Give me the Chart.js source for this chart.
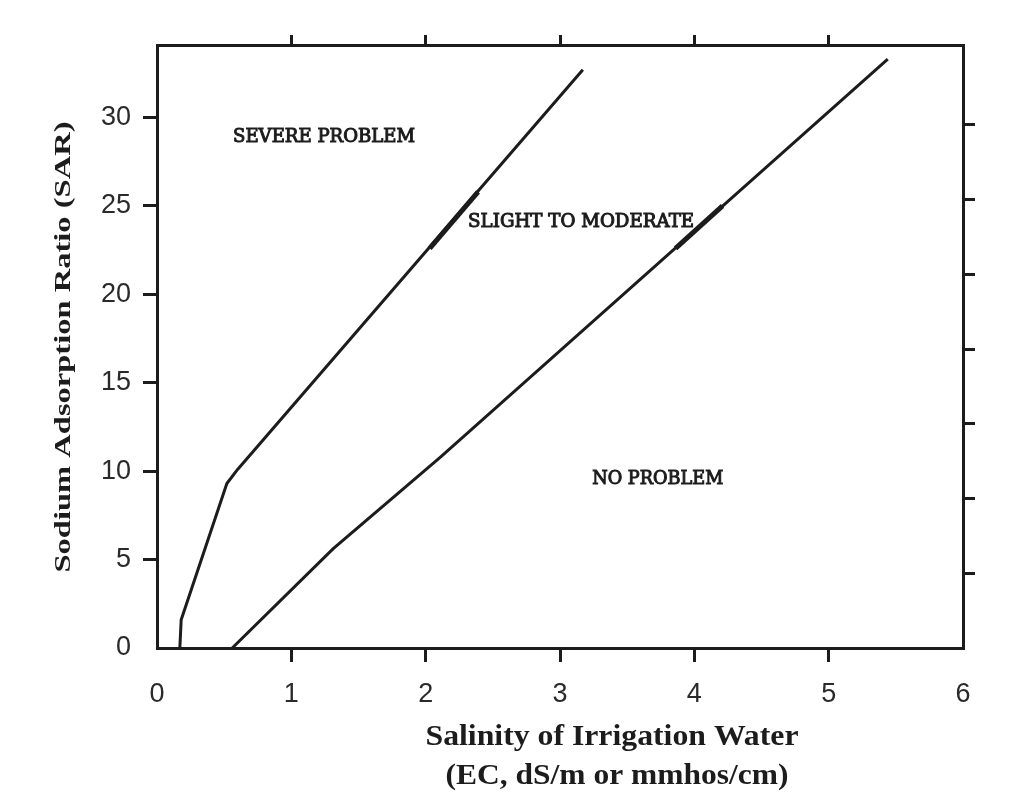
<!DOCTYPE html>
<html>
<head>
<meta charset="utf-8">
<script src="https://cdn.jsdelivr.net/npm/chart.js@4/dist/chart.umd.min.js"></script>
<style>
  html, body { margin: 0; padding: 0; background: #fff; }
  canvas { display: block; }
</style>
</head>
<body>
<canvas id="sarChart" width="1034" height="812"></canvas>
<script>
// --- données ---
// limite "severe problem" / "slight to moderate"
const ecSevere = [0.17, 0.18, 0.52, 0.60, 3.17];
const sarSevere = [0, 1.6, 9.3, 10.1, 32.7];
// limite "slight to moderate" / "no problem"
const ecNoProblem = [0.56, 1.31, 2.11, 5.44];
const sarNoProblem = [0, 5.6, 10.8, 33.3];
// traits plus épais (repasse au feutre sur l'original)
const ecSevereBold = [2.03, 2.39];
const sarSevereBold = [22.6, 25.8];
const ecNoProblemBold = [3.86, 4.21];
const sarNoProblemBold = [22.6, 25.0];

// étiquettes des zones
const zoneLabels = ['SEVERE PROBLEM', 'SLIGHT TO MODERATE', 'NO PROBLEM'];
const zoneEc = [0.566, 2.316, 3.24];
const zoneSar = [28.9, 24.1, 9.55];

// axes
const xTicks = [0, 1, 2, 3, 4, 5, 6];
const yTicks = [0, 5, 10, 15, 20, 25, 30];
const rightTicks = [1, 2, 3, 4, 5, 6, 7];
const xTitleLines = ['Salinity of Irrigation Water', '(EC, dS/m or mmhos/cm)'];
const yTitle = 'Sodium Adsorption Ratio (SAR)';

const INK = '#1c1c1c';
const toPoints = (xs, ys) => xs.map((v, i) => ({ x: v, y: ys[i] }));

const lineStyle = {
  borderColor: INK,
  borderWidth: 3,
  pointRadius: 0,
  fill: false,
  tension: 0
};

// largeur voulue de chaque étiquette de zone (px)
const zoneWidths = [182, 226, 131];

// Dessine un texte étiré (la figure scannée est déformée)
function drawStretched(ctx, text, x, y, targetWidth, rotate, stroke) {
  const w = ctx.measureText(text).width;
  ctx.save();
  ctx.translate(x, y);
  if (rotate) ctx.rotate(-Math.PI / 2);
  ctx.scale(targetWidth / w, 1);
  ctx.fillText(text, 0, 0);
  if (stroke) ctx.strokeText(text, 0, 0);
  ctx.restore();
}

const labelsPlugin = {
  id: 'labelsPlugin',
  afterDraw(chart) {
    const { ctx, scales } = chart;
    ctx.save();
    ctx.fillStyle = INK;
    ctx.strokeStyle = INK;

    // zones
    ctx.font = '18px "DejaVu Serif", "Liberation Serif", serif';
    ctx.lineWidth = 1;
    ctx.textAlign = 'left';
    ctx.textBaseline = 'middle';
    zoneLabels.forEach((txt, i) => {
      const px = scales.x.getPixelForValue(zoneEc[i]);
      const py = scales.y.getPixelForValue(zoneSar[i]);
      drawStretched(ctx, txt, px, py, zoneWidths[i], false, true);
    });

    // titre de l'axe x (deux lignes)
    ctx.font = 'bold 30px "Liberation Serif", "Times New Roman", serif';
    ctx.textAlign = 'center';
    ctx.textBaseline = 'alphabetic';
    drawStretched(ctx, xTitleLines[0], 612, 745, 373, false, false);
    drawStretched(ctx, xTitleLines[1], 617, 784, 343, false, false);

    // titre de l'axe y
    ctx.font = 'bold 24px "Liberation Serif", "Times New Roman", serif';
    drawStretched(ctx, yTitle, 70, 347, 451, true, false);
    ctx.restore();
  }
};

// ticks visibles seulement pour certaines valeurs
const tickColor = (values) => (c) => values.includes(c.tick && c.tick.value) ? INK : 'rgba(0,0,0,0)';

const tickFont = { family: '"Liberation Sans", Arial, sans-serif', size: 27 };

new Chart(document.getElementById('sarChart'), {
  type: 'line',
  data: {
    datasets: [
      { ...lineStyle, data: toPoints(ecSevere, sarSevere) },
      { ...lineStyle, data: toPoints(ecNoProblem, sarNoProblem) },
      { ...lineStyle, borderWidth: 5, data: toPoints(ecSevereBold, sarSevereBold) },
      { ...lineStyle, borderWidth: 5, data: toPoints(ecNoProblemBold, sarNoProblemBold) }
    ]
  },
  options: {
    responsive: false,
    animation: false,
    devicePixelRatio: 1,
    layout: { padding: 0 },
    plugins: { legend: { display: false }, tooltip: { enabled: false } },
    scales: {
      x: {
        type: 'linear', position: 'bottom', min: 0, max: 6,
        afterBuildTicks: s => { s.ticks = xTicks.map(v => ({ value: v })); },
        afterFit: s => { s.height = 164; },
        border: { display: true, color: INK, width: 3 },
        grid: { drawOnChartArea: false, tickLength: 14, lineWidth: 3, color: tickColor([1, 2, 3, 4, 5]) },
        ticks: { color: '#2a2a2a', font: tickFont, padding: 16, maxRotation: 0 }
      },
      x2: {
        type: 'linear', position: 'top', min: 0, max: 6,
        afterBuildTicks: s => { s.ticks = xTicks.map(v => ({ value: v })); },
        afterFit: s => { s.height = 45; },
        border: { display: true, color: INK, width: 3 },
        grid: { drawOnChartArea: false, tickLength: 10, lineWidth: 3, color: tickColor([1, 2, 3, 4, 5]) },
        ticks: { display: false }
      },
      y: {
        type: 'linear', position: 'left', min: 0, max: 34.1,
        afterBuildTicks: s => { s.ticks = yTicks.map(v => ({ value: v })); },
        afterFit: s => { s.width = 157; },
        border: { display: true, color: INK, width: 3 },
        grid: { drawOnChartArea: false, tickLength: 14, lineWidth: 3, color: tickColor([5, 10, 15, 20, 25, 30]) },
        ticks: { color: '#2a2a2a', font: tickFont, padding: 12 }
      },
      y2: {
        type: 'linear', position: 'right', min: 0, max: 8.07,
        afterBuildTicks: s => { s.ticks = rightTicks.map(v => ({ value: v })); },
        afterFit: s => { s.width = 71; },
        border: { display: true, color: INK, width: 3 },
        grid: { drawOnChartArea: false, tickLength: 12, lineWidth: 3, color: INK },
        ticks: { display: false }
      }
    }
  },
  plugins: [labelsPlugin]
});
</script>
</body>
</html>
